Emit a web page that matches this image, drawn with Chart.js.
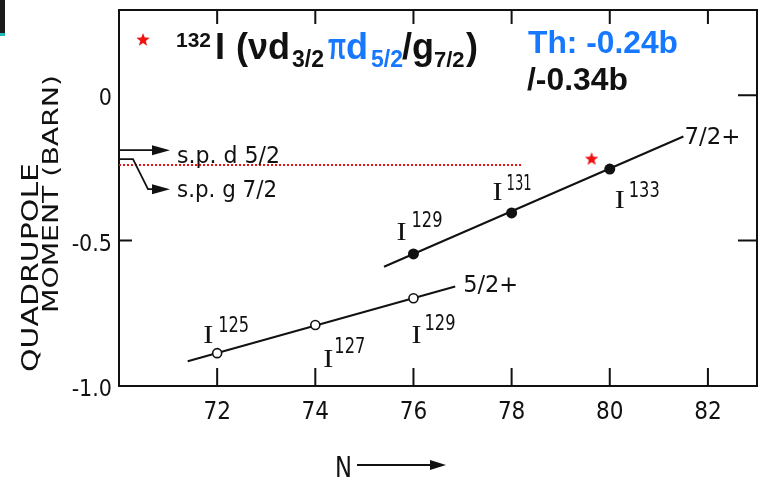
<!DOCTYPE html>
<html>
<head>
<meta charset="utf-8">
<script src="https://cdn.jsdelivr.net/npm/chart.js@4.4.1/dist/chart.umd.min.js"></script>
<style>
  body { margin: 0; background: #fff; }
  #wrap { width: 769px; height: 484px; position: relative; }
</style>
</head>
<body>
<div id="wrap"><canvas id="quadChart"></canvas></div>
<script>
// axis ticks
const xTicks = [72, 74, 76, 78, 80, 82];
const yTicks = [-1.0, -0.5, 0];
const yTickLabels = ['-1.0', '-0.5', '0'];

// 5/2+ ground states (open circles): I-125, I-127, I-129
const openN = [72, 74, 76];
const openQ = [-0.887, -0.79, -0.698];
const openMass = ['125', '127', '129'];

// 7/2+ ground states (filled circles): I-129, I-131, I-133
const fullN = [76, 78, 80];
const fullQ = [-0.546, -0.405, -0.254];
const fullMass = ['129', '131', '133'];

// straight lines drawn through each set
const line52N = [71.4, 76.85];
const line52Q = [-0.915, -0.658];
const line72N = [75.4, 81.5];
const line72Q = [-0.59, -0.142];

// 132I theory value (red star) and the dotted -0.24b line
const starN = [79.63];
const starQ = [-0.22];
const thLineN = [70, 78.2];
const thLineQ = [-0.24, -0.24];
const keyStarN = [70.49];
const keyStarQ = [0.19];

// single particle arrows on the left axis
const spLabels = ['s.p. d 5/2', 's.p. g 7/2'];
const spQ = [-0.189, -0.22];

const toXY = (xs, ys) => xs.map((x, i) => ({ x: x, y: ys[i] }));

// filled red star used as point style
function makeStar(r) {
    const c = document.createElement('canvas');
    c.width = c.height = r * 2 + 2;
    const g = c.getContext('2d');
    g.fillStyle = '#ee1111';
    g.beginPath();
    for (let i = 0; i < 10; i++) {
        const rad = i % 2 === 0 ? r : r * 0.42;
        const a = -Math.PI / 2 + i * Math.PI / 5;
        const px = r + 1 + rad * Math.cos(a);
        const py = r + 1 + rad * Math.sin(a);
        if (i === 0) g.moveTo(px, py); else g.lineTo(px, py);
    }
    g.closePath();
    g.fill();
    return c;
}
const starImg = makeStar(7);

const INK = '#111';
const BLUE = '#1677ff';

// text squeezed / stretched to a given width
function fitText(ctx, str, font, x, y, w, color) {
    ctx.save();
    ctx.font = font;
    ctx.fillStyle = color || INK;
    ctx.textBaseline = 'alphabetic';
    ctx.textAlign = 'left';
    const m = ctx.measureText(str).width;
    ctx.translate(x, y);
    ctx.scale(w / m, 1);
    ctx.fillText(str, 0, 0);
    ctx.restore();
}

function plainText(ctx, str, font, x, y, color) {
    ctx.save();
    ctx.font = font;
    ctx.fillStyle = color || INK;
    ctx.textBaseline = 'alphabetic';
    ctx.textAlign = 'left';
    ctx.fillText(str, x, y);
    ctx.restore();
}

function arrowHead(ctx, tipX, y) {
    ctx.beginPath();
    ctx.moveTo(tipX, y);
    ctx.lineTo(tipX - 18, y - 5);
    ctx.lineTo(tipX - 18, y + 5);
    ctx.closePath();
    ctx.fill();
}

const decor = {
    id: 'decor',
    afterDatasetsDraw(chart) {
        const ctx = chart.ctx;
        const a = chart.chartArea;
        const xs = chart.scales.x;
        const ys = chart.scales.y;
        ctx.save();
        ctx.strokeStyle = INK;
        ctx.fillStyle = INK;
        ctx.lineWidth = 2;

        // top and right frame
        ctx.beginPath();
        ctx.moveTo(a.left, a.top);
        ctx.lineTo(a.right, a.top);
        ctx.lineTo(a.right, a.bottom);
        ctx.stroke();

        // inward ticks
        ctx.beginPath();
        xTicks.forEach(v => {
            const px = xs.getPixelForValue(v);
            ctx.moveTo(px, a.bottom);
            ctx.lineTo(px, a.bottom - 18);
            ctx.moveTo(px, a.top);
            ctx.lineTo(px, a.top + 14);
        });
        [0, -0.5].forEach(v => {
            const py = ys.getPixelForValue(v);
            ctx.moveTo(a.right, py);
            ctx.lineTo(a.right - 19, py);
        });
        const pyHalf = ys.getPixelForValue(-0.5);
        ctx.moveTo(a.left, pyHalf);
        ctx.lineTo(a.left + 13, pyHalf);
        ctx.stroke();

        // single particle arrows
        const y1 = ys.getPixelForValue(spQ[0]);
        const y2 = ys.getPixelForValue(spQ[1]);
        const tip = a.left + 51;
        ctx.lineWidth = 1.8;
        ctx.beginPath();
        ctx.moveTo(a.left, y1);
        ctx.lineTo(tip - 10, y1);
        ctx.moveTo(a.left, y2);
        ctx.lineTo(a.left + 14, y2);
        ctx.lineTo(a.left + 29, y2 + 30);
        ctx.lineTo(tip - 10, y2 + 30);
        ctx.stroke();
        arrowHead(ctx, tip, y1);
        arrowHead(ctx, tip, y2 + 30);
        fitText(ctx, spLabels[0], '23px "DejaVu Sans"', a.left + 58, y1 + 13, 103);
        fitText(ctx, spLabels[1], '23px "DejaVu Sans"', a.left + 58, y2 + 38, 100);

        // isotope labels next to the points
        const supFont = '21px "DejaVu Sans Condensed", "DejaVu Sans", sans-serif';
        const openOff = [[-14, -10, 1, -21], [8, 42, 19, 28], [-2, 45, 11, 32]];
        openN.forEach((n, i) => {
            const px = xs.getPixelForValue(n);
            const py = ys.getPixelForValue(openQ[i]);
            const o = openOff[i];
            fitText(ctx, 'I', '25px "Liberation Serif"', px + o[0], py + o[1], 10);
            fitText(ctx, openMass[i], supFont, px + o[2], py + o[3], 31);
        });
        const fullOff = [[-17, -14, -2, -27], [-19, -13, -5, -23], [5, 39, 19, 28]];
        fullN.forEach((n, i) => {
            const px = xs.getPixelForValue(n);
            const py = ys.getPixelForValue(fullQ[i]);
            const o = fullOff[i];
            fitText(ctx, 'I', '25px "Liberation Serif"', px + o[0], py + o[1], 10);
            fitText(ctx, fullMass[i], supFont, px + o[2], py + o[3], i === 1 ? 25 : 31);
        });

        // spin labels at line ends
        const e72x = xs.getPixelForValue(line72N[1]);
        const e72y = ys.getPixelForValue(line72Q[1]);
        fitText(ctx, '7/2+', '23px "DejaVu Sans"', e72x + 1, e72y + 8, 56);
        const e52x = xs.getPixelForValue(line52N[1]);
        const e52y = ys.getPixelForValue(line52Q[1]);
        fitText(ctx, '5/2+', '23px "DejaVu Sans"', e52x + 8, e52y + 5, 55);

        // y axis title (two rotated lines)
        ctx.save();
        ctx.translate(38, 372);
        ctx.rotate(-Math.PI / 2);
        fitText(ctx, 'QUADRUPOLE', '23px "DejaVu Sans"', 0, 0, 209);
        ctx.restore();
        ctx.save();
        ctx.translate(58, 313);
        ctx.rotate(-Math.PI / 2);
        fitText(ctx, 'MOMENT (BARN)', '22px "DejaVu Sans"', 0, 0, 238);
        ctx.restore();

        // x axis title with arrow
        const nb = a.bottom + 91;
        fitText(ctx, 'N', '29px "DejaVu Sans"', 335, nb, 17);
        ctx.lineWidth = 2;
        ctx.beginPath();
        ctx.moveTo(357, nb - 12);
        ctx.lineTo(432, nb - 12);
        ctx.stroke();
        ctx.beginPath();
        ctx.moveTo(446, nb - 12);
        ctx.lineTo(430, nb - 17);
        ctx.lineTo(430, nb - 7);
        ctx.closePath();
        ctx.fill();

        // title: 132I (vd3/2 pi d5/2 / g7/2)
        const big = 'bold 36px "Liberation Sans", Arial, sans-serif';
        const sub = 'bold 23px "Liberation Sans", Arial, sans-serif';
        plainText(ctx, '132', 'bold 21px "Liberation Sans", Arial, sans-serif', 176, 47);
        plainText(ctx, 'I', big, 215, 59);
        plainText(ctx, '(\u03BDd', big, 236, 59);
        plainText(ctx, '3/2', sub, 292, 67);
        fitText(ctx, '\u03C0', big, 328, 59, 18, BLUE);
        plainText(ctx, 'd', big, 346, 59, BLUE);
        plainText(ctx, '5/2', sub, 371, 67, BLUE);
        plainText(ctx, '/g', big, 402, 59);
        plainText(ctx, '7/2', 'bold 22px "Liberation Sans", Arial, sans-serif', 434, 67);
        plainText(ctx, ')', big, 466, 59);

        fitText(ctx, 'Th: -0.24b', 'bold 32px "Liberation Sans", Arial, sans-serif', 528, 53, 150, BLUE);
        fitText(ctx, '/-0.34b', 'bold 32px "Liberation Sans", Arial, sans-serif', 527, 90, 101);

        // corner mark
        ctx.fillStyle = '#1b1b1b';
        ctx.fillRect(0, 0, 5, 33);
        ctx.fillStyle = '#22b8b8';
        ctx.fillRect(0, 33, 5, 3);
        ctx.restore();
    }
};

const tickFont = { family: '"DejaVu Sans Condensed", "DejaVu Sans", sans-serif', size: 24 };

new Chart(document.getElementById('quadChart'), {
    type: 'scatter',
    data: {
        datasets: [
            {
                data: toXY(fullN, fullQ),
                pointRadius: 5.5,
                pointBackgroundColor: INK,
                pointBorderColor: INK,
                pointBorderWidth: 0,
                order: 0
            },
            {
                data: toXY(openN, openQ),
                pointRadius: 4.5,
                pointBackgroundColor: '#fff',
                pointBorderColor: INK,
                pointBorderWidth: 1.6,
                order: 0
            },
            {
                data: toXY(starN, starQ),
                pointStyle: starImg,
                order: 0
            },
            {
                data: toXY(keyStarN, keyStarQ),
                pointStyle: starImg,
                order: 0
            },
            {
                data: toXY(line72N, line72Q),
                showLine: true,
                borderColor: INK,
                borderWidth: 2,
                pointRadius: 0,
                order: 1
            },
            {
                data: toXY(line52N, line52Q),
                showLine: true,
                borderColor: INK,
                borderWidth: 2,
                pointRadius: 0,
                order: 1
            },
            {
                data: toXY(thLineN, thLineQ),
                showLine: true,
                borderColor: '#e41414',
                borderWidth: 2,
                borderDash: [2, 2],
                pointRadius: 0,
                order: 1
            }
        ]
    },
    options: {
        responsive: true,
        maintainAspectRatio: false,
        animation: false,
        layout: { padding: { top: 10, right: 12, left: 0, bottom: 0 } },
        plugins: {
            legend: { display: false },
            tooltip: { enabled: false }
        },
        scales: {
            x: {
                type: 'linear',
                min: 70,
                max: 83,
                afterBuildTicks: s => { s.ticks = xTicks.map(v => ({ value: v })); },
                afterFit: s => { s.height = 98; s.paddingLeft = 0; s.paddingRight = 0; },
                grid: { display: false, drawTicks: false },
                border: { display: true, color: INK, width: 2 },
                ticks: { font: tickFont, color: INK, padding: 12 }
            },
            y: {
                type: 'linear',
                min: -1.0,
                max: 0.293,
                afterBuildTicks: s => { s.ticks = yTicks.map(v => ({ value: v })); },
                afterFit: s => { s.width = 119; s.paddingTop = 0; s.paddingBottom = 0; },
                grid: { display: false, drawTicks: false },
                border: { display: true, color: INK, width: 2 },
                ticks: {
                    font: { family: tickFont.family, size: 23 },
                    color: INK,
                    padding: 7,
                    labelOffset: 4,
                    callback: (v) => yTickLabels[yTicks.indexOf(v)]
                }
            }
        }
    },
    plugins: [decor]
});
</script>
</body>
</html>
